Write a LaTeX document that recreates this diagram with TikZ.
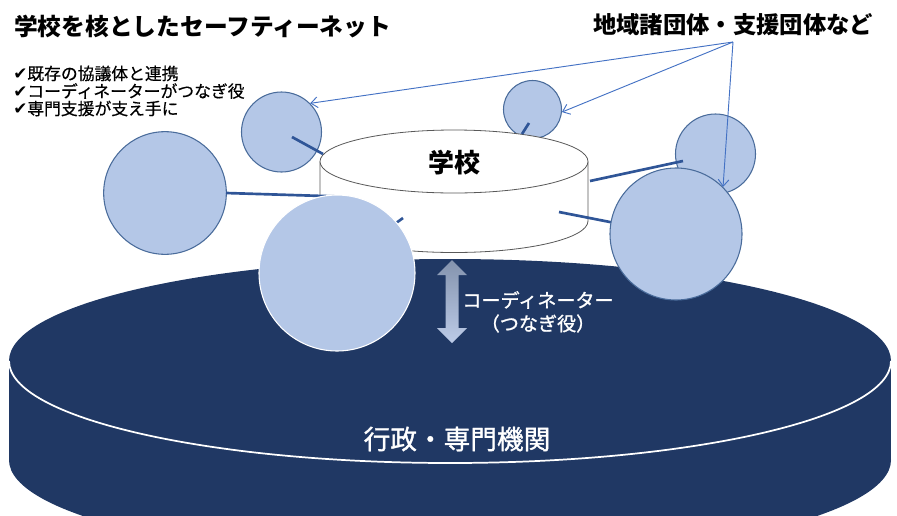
\documentclass[tikz,border=0pt]{standalone}
\usepackage{fontspec}
\setmainfont{Noto Sans CJK JP}
\newfontfamily\medf[FakeBold=1.2]{Noto Sans CJK JP}
\newfontfamily\lightmedf[FakeBold=0.5]{Noto Sans CJK JP}
\newfontfamily\symf{DejaVu Sans}
\usetikzlibrary{arrows.meta}
\definecolor{navy}{HTML}{203864}
\definecolor{bubfill}{HTML}{B4C7E7}
\definecolor{bubline}{HTML}{4A6C9B}
\definecolor{connc}{HTML}{2F5597}
\definecolor{arrc}{HTML}{4472C4}
\definecolor{schoolline}{HTML}{595959}
\definecolor{dblA}{HTML}{8493AD}
\definecolor{dblB}{HTML}{BCCBE8}
\begin{document}
\begin{tikzpicture}[x=0.75pt,y=-0.75pt,
  bub/.style={circle,fill=bubfill,draw=bubline,line width=0.8pt,inner sep=0pt},
  conn/.style={draw=connc,line width=2pt},
  thinarr/.style={draw=arrc,line width=0.7pt,-{Straight Barb[length=5pt,width=8pt]}},
  lbl/.style={inner sep=0pt},
  chkline/.style={inner sep=0pt, anchor=west, font=\fontsize{12.6}{14}\lightmedf}]
\path[use as bounding box] (0,0) rectangle (897,515);
\clip (0,0) rectangle (897,515);

% base cylinder (administration)
\fill[navy] (450,460) ellipse[x radius=441, y radius=101];
\fill[navy] (9,362) rectangle (891,460);
\fill[navy] (450,361) ellipse[x radius=441, y radius=102];
\draw[white,line width=1.3pt] (9,361) arc[start angle=180, end angle=0, x radius=441, y radius=102];

% bubbles behind school
\node[bub, minimum size=43.5pt] (D) at (532.5,109.5) {};
\node[bub, minimum size=60pt] (E) at (715.5,154) {};

% school cylinder
\filldraw[fill=white,draw=schoolline,line width=0.6pt] (320,161.5) -- (320,221) arc[start angle=180, end angle=0, x radius=134, y radius=31.5] -- (588,161.5);
\filldraw[fill=white,draw=schoolline,line width=0.6pt] (454,161.5) ellipse[x radius=134, y radius=31.5];
\node[lbl, font=\fontsize{19.5}{22}\selectfont\bfseries] (school) at (454,163) {学校};

% bubbles beside school
\node[bub, minimum size=60pt] (A) at (281.5,132) {};
\node[bub, minimum size=92pt] (B) at (165,193) {};

% connectors
\coordinate (a1) at (292,137); \coordinate (a2) at (323,154);
\coordinate (b1) at (226,193); \coordinate (b2) at (340,196.5);
\coordinate (c1) at (385,231); \coordinate (c2) at (403,218);
\coordinate (d1) at (529,123); \coordinate (d2) at (522,134);
\coordinate (e1) at (590,181); \coordinate (e2) at (683,161);
\coordinate (f1) at (559,212); \coordinate (f2) at (615,223);
\draw[conn] (a1) -- (a2);
\draw[conn] (b1) -- (b2);
\draw[conn] (c1) -- (c2);
\draw[conn] (d1) -- (d2);
\draw[conn] (e1) -- (e2);
\draw[conn] (f1) -- (f2);

% front bubbles
\node[bub, draw=white, minimum size=117pt] (C) at (337,273) {};
\node[bub, minimum size=99pt] (F) at (676,234) {};

% coordinator double arrow
\shade[top color=dblA, bottom color=dblB]
  (452,260) -- (467,275) -- (458.5,275) -- (458.5,328) -- (467,328) -- (452,343)
  -- (437,328) -- (445.5,328) -- (445.5,275) -- (437,275) -- cycle;
\node[lbl, white, font=\fontsize{14.3}{16}\medf] (coord) at (538,300) {コーディネーター};
\node[lbl, white, font=\fontsize{14.3}{16}\medf] (role) at (538,323.5) {（つなぎ役）};

% labels
\node[lbl, anchor=west, font=\fontsize{17.8}{20}\selectfont\bfseries] (title) at (14,27) {学校を核としたセーフティーネット};
\node[chkline] (chk1) at (13,73.5) {{\symf ✔}既存の協議体と連携};
\node[chkline] (chk2) at (13,91) {{\symf ✔}コーディネーターがつなぎ役};
\node[chkline] (chk3) at (13,108.5) {{\symf ✔}専門支援が支え手に};
\node[lbl, font=\fontsize{17.5}{20}\selectfont\bfseries] (groups) at (733,25) {地域諸団体・支援団体など};
\node[lbl, white, font=\fontsize{20}{24}\medf] (gov) at (457,439) {行政・専門機関};

% arrows from the groups label
\coordinate (hub) at (733,42);
\draw[thinarr] (hub) -- (A.45);
\draw[thinarr] (hub) -- (D.-5);
\draw[thinarr] (hub) -- (F.45);
\end{tikzpicture}
\end{document}
